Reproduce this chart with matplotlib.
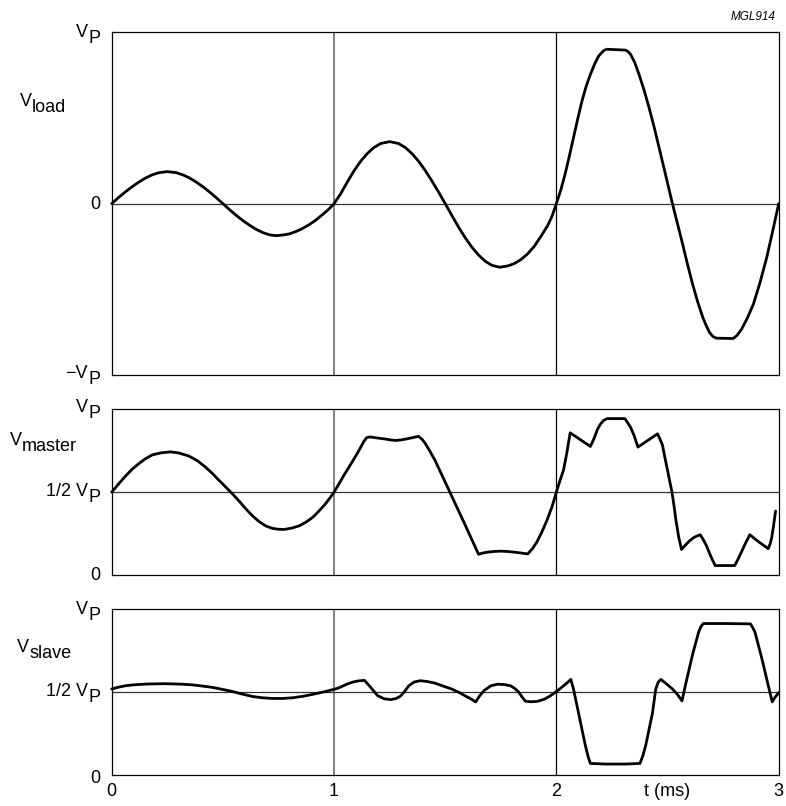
import matplotlib
matplotlib.use("Agg")
import matplotlib.pyplot as plt

plt.rcParams['font.family'] = ['Liberation Sans', 'DejaVu Sans']

# ---------------- data (t in ms, voltage as fraction of V_P) ----------------
t_load = [0, 0.03, 0.06, 0.09, 0.12, 0.15, 0.18, 0.21, 0.25, 0.29, 0.32, 0.35, 0.38, 0.41, 0.44, 0.47, 0.5,
          0.53, 0.56, 0.59, 0.62, 0.65, 0.68, 0.71, 0.74, 0.77, 0.80, 0.83, 0.86, 0.89, 0.92, 0.95, 0.975, 1.0,
          1.03, 1.06, 1.09, 1.12, 1.15, 1.18, 1.21, 1.25, 1.29, 1.32, 1.35, 1.38, 1.41, 1.44, 1.47, 1.5,
          1.53, 1.56, 1.59, 1.62, 1.65, 1.68, 1.71, 1.745, 1.78, 1.81, 1.84, 1.87, 1.90, 1.93, 1.96, 1.98, 2.0,
          2.02, 2.039, 2.058, 2.077, 2.096, 2.115, 2.134, 2.153, 2.172, 2.19, 2.205, 2.215, 2.228,
          2.311, 2.322, 2.334, 2.352, 2.372, 2.395, 2.417, 2.44, 2.462, 2.49, 2.522,
          2.545, 2.568, 2.59, 2.613, 2.636, 2.659, 2.675, 2.689, 2.704, 2.719,
          2.795, 2.812, 2.833, 2.86, 2.886, 2.915, 2.946, 2.973, 3.0]
v_load = [0, 0.035, 0.067, 0.097, 0.124, 0.148, 0.167, 0.180, 0.187, 0.181, 0.168, 0.150, 0.126, 0.099, 0.068, 0.035, 0,
          -0.035, -0.068, -0.099, -0.126, -0.150, -0.169, -0.182, -0.187, -0.183, -0.176, -0.162, -0.144, -0.121, -0.094, -0.062, -0.034, 0,
          0.058, 0.127, 0.192, 0.248, 0.293, 0.328, 0.351, 0.362, 0.351, 0.328, 0.293, 0.248, 0.194, 0.133, 0.068, 0,
          -0.069, -0.137, -0.199, -0.254, -0.300, -0.336, -0.360, -0.371, -0.364, -0.350, -0.327, -0.294, -0.250, -0.192, -0.130, -0.075, 0,
          0.08, 0.171, 0.275, 0.385, 0.495, 0.598, 0.685, 0.754, 0.815, 0.861, 0.883, 0.895, 0.901,
          0.896, 0.888, 0.871, 0.825, 0.754, 0.66, 0.56, 0.445, 0.327, 0.175, 0,
          -0.118, -0.237, -0.355, -0.471, -0.575, -0.665, -0.715, -0.752, -0.775, -0.785,
          -0.787, -0.77, -0.733, -0.665, -0.587, -0.465, -0.315, -0.16, 0]

t_master = [0, 0.03, 0.06, 0.09, 0.12, 0.15, 0.181, 0.22, 0.264, 0.30, 0.347, 0.385, 0.422, 0.452, 0.482, 0.512, 0.543,
            0.573, 0.603, 0.633, 0.663, 0.693, 0.724, 0.75, 0.776, 0.81, 0.844, 0.875, 0.905, 0.93, 0.958, 0.98, 1.0,
            1.02, 1.041, 1.063, 1.085, 1.105, 1.122, 1.135, 1.147, 1.16, 1.174, 1.20, 1.233, 1.255, 1.277, 1.30, 1.322,
            1.35, 1.38, 1.395, 1.41, 1.43, 1.455, 1.521, 1.588, 1.65, 1.67, 1.691, 1.72, 1.75, 1.78, 1.809, 1.84,
            1.871, 1.893, 1.913, 1.935, 1.957, 1.98, 2.0,
            2.015, 2.032, 2.047, 2.062, 2.153, 2.165, 2.175, 2.185, 2.198, 2.212, 2.228, 2.308, 2.32, 2.334, 2.35, 2.367,
            2.455, 2.466, 2.477, 2.488, 2.5, 2.51, 2.52, 2.53, 2.538, 2.55, 2.563, 2.58, 2.598, 2.62, 2.647,
            2.66, 2.674, 2.694, 2.714, 2.802, 2.817, 2.832, 2.85, 2.870, 2.91, 2.953, 2.962, 2.968, 2.976, 2.986]
v_master = [0.5, 0.548, 0.594, 0.636, 0.670, 0.700, 0.724, 0.737, 0.743, 0.737, 0.718, 0.690, 0.651, 0.614, 0.572, 0.532, 0.49,
            0.446, 0.400, 0.357, 0.322, 0.296, 0.281, 0.276, 0.275, 0.283, 0.297, 0.320, 0.349, 0.383, 0.424, 0.462, 0.5,
            0.545, 0.594, 0.642, 0.69, 0.735, 0.776, 0.808, 0.829, 0.833, 0.831, 0.826, 0.82, 0.815, 0.812, 0.815, 0.82,
            0.828, 0.837, 0.82, 0.795, 0.75, 0.69, 0.5, 0.307, 0.125, 0.133, 0.138, 0.142, 0.144, 0.142, 0.138, 0.133,
            0.127, 0.16, 0.201, 0.26, 0.328, 0.41, 0.5,
            0.565, 0.632, 0.737, 0.858, 0.776, 0.81, 0.843, 0.88, 0.91, 0.932, 0.944, 0.944, 0.92, 0.891, 0.84, 0.772,
            0.852, 0.82, 0.785, 0.71, 0.632, 0.565, 0.5, 0.41, 0.329, 0.23, 0.154, 0.18, 0.205, 0.228, 0.243,
            0.215, 0.18, 0.115, 0.057, 0.057, 0.095, 0.138, 0.19, 0.243, 0.2, 0.159, 0.19, 0.222, 0.29, 0.386]

t_slave = [0, 0.03, 0.06, 0.09, 0.12, 0.158, 0.196, 0.233, 0.271, 0.317, 0.362, 0.407, 0.452, 0.497, 0.543,
           0.588, 0.633, 0.678, 0.724, 0.769, 0.814, 0.86, 0.905, 0.952, 1.0,
           1.02, 1.041, 1.063, 1.085, 1.11, 1.137, 1.159, 1.196, 1.225, 1.255, 1.28, 1.299, 1.318, 1.336, 1.36,
           1.388, 1.42, 1.455, 1.49, 1.529, 1.56, 1.588, 1.615, 1.637, 1.655, 1.676, 1.705, 1.735, 1.765, 1.795,
           1.815, 1.831, 1.846, 1.861, 1.885, 1.913, 1.945, 1.971, 2.0,
           2.016, 2.032, 2.05, 2.065, 2.077, 2.1, 2.13, 2.143, 2.153, 2.221, 2.311, 2.376, 2.39, 2.402, 2.432,
           2.447, 2.458, 2.470, 2.495, 2.522, 2.545, 2.565, 2.583, 2.613, 2.640, 2.65, 2.661, 2.764, 2.873,
           2.883, 2.893, 2.923, 2.95, 2.971, 2.983, 3.0]
v_slave = [0.519, 0.53, 0.538, 0.543, 0.546, 0.549, 0.55, 0.551, 0.55, 0.548, 0.544, 0.537, 0.529, 0.517, 0.504,
           0.488, 0.474, 0.466, 0.462, 0.462, 0.466, 0.475, 0.487, 0.501, 0.517,
           0.525, 0.538, 0.551, 0.561, 0.568, 0.571, 0.538, 0.479, 0.46, 0.455, 0.462, 0.476, 0.505, 0.538, 0.561,
           0.569, 0.564, 0.554, 0.537, 0.519, 0.5, 0.479, 0.46, 0.441, 0.478, 0.511, 0.538, 0.548, 0.546, 0.538,
           0.52, 0.5, 0.47, 0.445, 0.442, 0.444, 0.457, 0.476, 0.504,
           0.52, 0.538, 0.558, 0.577, 0.519, 0.372, 0.18, 0.11, 0.07, 0.066, 0.066, 0.07, 0.12, 0.18, 0.372,
           0.519, 0.56, 0.577, 0.55, 0.519, 0.485, 0.447, 0.557, 0.729, 0.863, 0.895, 0.914, 0.914, 0.912,
           0.89, 0.863, 0.71, 0.557, 0.441, 0.468, 0.497]

x_ticks = [0, 1, 2, 2.5, 3]
x_labels = ['0', '1', '2', 't (ms)', '3']
grid_t = [1, 2]

# ---------------- layout ----------------
W, H = 786, 806
FS = 13
SUBOFF = 4.3  # points, subscript drop

fig = plt.figure(figsize=(W / 100, H / 100), dpi=100)


def px_axes(l, t, r, b):
    return fig.add_axes([l / W, 1 - b / H, (r - l) / W, (b - t) / H])


ax1 = px_axes(111.7, 32.3, 778.7, 375)
ax2 = px_axes(111.7, 409.3, 778.7, 575)
ax3 = px_axes(111.7, 609.3, 778.7, 775)

for ax in (ax1, ax2, ax3):
    ax.set_xlim(0, 3)
    for s in ax.spines.values():
        s.set_linewidth(0.9)
        s.set_color('black')
    ax.axvline(grid_t[0], color='#7a7a7a', lw=1.3, zorder=1)
    ax.axvline(grid_t[1], color='black', lw=0.9, zorder=1)
    ax.set_yticks([])
    ax.tick_params(axis='x', length=0)

ax1.set_ylim(-1, 1)
ax2.set_ylim(0, 1)
ax3.set_ylim(0, 1)
ax1.axhline(0, color='#333333', lw=0.9, zorder=1)
ax2.axhline(0.5, color='#333333', lw=0.9, zorder=1)
ax3.axhline(0.5, color='#333333', lw=0.9, zorder=1)

for ax, tt, vv in ((ax1, t_load, v_load), (ax2, t_master, v_master), (ax3, t_slave, v_slave)):
    ax.plot(tt, vv, color='black', lw=2.0, solid_joinstyle='round',
            solid_capstyle='round', zorder=3, clip_on=False)

ax1.set_xticks([])
ax2.set_xticks([])
ax3.set_xticks(x_ticks, x_labels)
ax3.tick_params(axis='x', length=0, pad=6, labelsize=FS)


def ylab_sub(ax, yval, main, sub, dy_pt):
    st = ax.annotate(sub, xy=(0, yval), xycoords=ax.get_yaxis_transform(),
                     xytext=(-8.4, dy_pt), textcoords='offset points',
                     ha='right', va='baseline', fontsize=FS, annotation_clip=False)
    ax.annotate(main, xy=(0, 0), xycoords=st, xytext=(0, SUBOFF),
                textcoords='offset points', ha='right', va='bottom', fontsize=FS,
                annotation_clip=False)


def ylab(ax, yval, txt, dy_pt):
    ax.annotate(txt, xy=(0, yval), xycoords=ax.get_yaxis_transform(),
                xytext=(-8.4, dy_pt), textcoords='offset points',
                ha='right', va='baseline', fontsize=FS, annotation_clip=False)


# top panel labels
ylab_sub(ax1, 1, 'V', 'P', -7.4)
ylab(ax1, 0, '0', -3.5)
ylab_sub(ax1, -1, '\u2212V', 'P', -6.5)
# middle panel labels
ylab_sub(ax2, 1, 'V', 'P', -6.4)
ylab_sub(ax2, 0.5, '1/2 V', 'P', -7.0)
ylab(ax2, 0, '0', -3.6)
# bottom panel labels
ylab_sub(ax3, 1, 'V', 'P', -7.4)
ylab_sub(ax3, 0.5, '1/2 V', 'P', -7.0)
ylab(ax3, 0, '0', -5.5)

# side quantity labels
for x_px, base_px, sub in [(20, 106, 'load'), (10, 445, 'master'), (17, 652, 'slave')]:
    mt = fig.text(x_px / W, 1 - base_px / H, 'V', ha='left', va='baseline', fontsize=FS)
    ax1.annotate(sub, xy=(1, 0), xycoords=mt, xytext=(0, -SUBOFF),
                 textcoords='offset points', ha='left', va='bottom', fontsize=FS,
                 annotation_clip=False)

fig.text(776 / W, 1 - 20 / H, 'MGL914', ha='right', va='baseline',
         fontsize=8.5, style='italic')

fig.savefig('out.png', dpi=100)
